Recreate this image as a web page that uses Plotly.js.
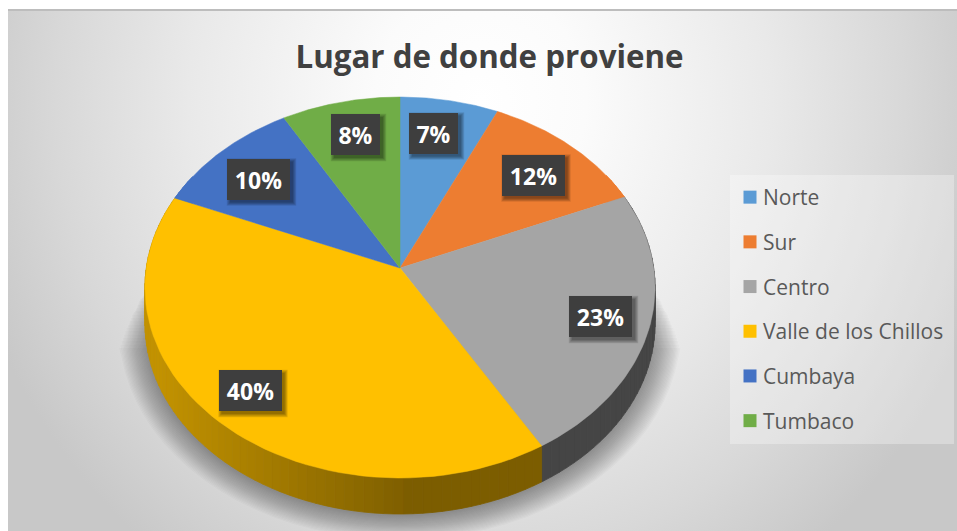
<!DOCTYPE html>
<html><head><meta charset="utf-8">
<script src="https://cdn.plot.ly/plotly-3.0.1.min.js"></script>
<style>
html,body{margin:0;padding:0;background:#fff;width:957px;height:531px;overflow:hidden}
#bg{position:absolute;left:8px;top:9px;width:949px;height:522px;box-sizing:border-box;border-top:2px solid #bdbdbd;
background:radial-gradient(ellipse 530px 570px at 472px 90px,#ffffff 0%,#fbfbfb 20%,#e9e9e9 55%,#d8d8d8 80%,#c8c8c8 100%)}
#chart{position:absolute;left:0;top:0}
</style></head><body>
<div id="bg"></div><div id="chart"></div>
<script>
var titleText = 'Lugar de donde proviene';
var categories = ['Norte','Sur','Centro','Valle de los Chillos','Cumbaya','Tumbaco'];
var values = [6.9, 11.7, 22.9, 39.8, 10.4, 8.3];
var colors = ['#5b9bd5','#ed7d31','#a5a5a5','#ffc000','#4472c4','#70ad47'];
var labelX = [433.5, 533, 600.5, 250, 258.5, 355.5];
var labelY = [133, 175, 316.5, 390.5, 179, 134.5];

// projection of the pie disc
var cx=400, cy=268, a=253.7, b=188.5, p=0.1024, depth=36;
function proj(theta, r){
  var u=Math.sin(theta)*r, v=Math.cos(theta)*r, d=1+p*v;
  return [cx+a*u/d, cy-b*v/d];
}
function mix(c1,c2,t){
  var m=[0,1,2].map(function(i){return Math.round(c1[i]+(c2[i]-c1[i])*t)});
  return 'rgb('+m.join(',')+')';
}
function sideColor(i,x){
  if(i===3){ var t=Math.max(0,Math.min(1,(x-160)/(400-160)));
    return t<1?mix([194,146,0],[128,96,0],t):'rgb(124,93,0)'; }
  if(i===2) return '#454545';
  return colors[i];
}
var traces=[];
var total=values.reduce(function(s,v){return s+v},0);
// soft shadow
var nShadow=22;
for(var k=0;k<nShadow;k++){
  var f=k/(nShadow-1), s=1.1-0.1*f, xs=[], ys=[];
  for(var d=0;d<=360;d+=4){
    var q=proj(d*Math.PI/180,s);
    xs.push(q[0]); ys.push(Math.max(cy+80-70*f,q[1]+depth+2));
  }
  traces.push({type:'scatter',mode:'lines',x:xs,y:ys,fill:'toself',fillcolor:'rgba(60,60,60,0.022)',
    line:{width:0},hoverinfo:'skip',showlegend:false});
}
// side wall strips
var start=0;
values.forEach(function(v,i){
  var end=start+v/total*2*Math.PI, step=2*Math.PI/180;
  for(var t=start;t<end;t+=step){
    var t2=Math.min(end,t+step);
    if(Math.cos(t)>0.5 && Math.cos(t2)>0.5) continue;
    var p1=proj(t,1), p2=proj(t2,1), col=sideColor(i,(p1[0]+p2[0])/2);
    traces.push({type:'scatter',mode:'lines',
      x:[p1[0],p2[0],p2[0],p1[0],p1[0]],y:[p1[1],p2[1],p2[1]+depth,p1[1]+depth,p1[1]],
      fill:'toself',fillcolor:col,line:{width:0.8,color:col},hoverinfo:'skip',showlegend:false});
  }
  start=end;
});
// top surface
start=0;
values.forEach(function(v,i){
  var end=start+v/total*2*Math.PI, xs=[cx], ys=[cy], n=60;
  for(var j=0;j<=n;j++){var q=proj(start+(end-start)*j/n,1);xs.push(q[0]);ys.push(q[1]);}
  xs.push(cx);ys.push(cy);
  traces.push({type:'scatter',mode:'lines',x:xs,y:ys,fill:'toself',fillcolor:colors[i],
    line:{width:0.5,color:colors[i]},hoverinfo:'skip',showlegend:false});
  start=end;
});
// legend entries
categories.forEach(function(c,i){
  traces.push({type:'scatter',mode:'markers',name:c,legendgroup:c,x:[-100],y:[-100],
    marker:{symbol:'square',size:13,color:colors[i]},hoverinfo:'skip',showlegend:true});
});
// labels with soft shadows
var shapes=[{type:'rect',xref:'x',yref:'y',x0:730,x1:954,y0:175,y1:444,fillcolor:'rgba(255,255,255,0.3)',line:{width:0},layer:'below'}];
var annotations=[];
categories.forEach(function(c,i){
  var pct=Math.round(values[i]/total*100), w=(pct>=10)?63:49, h=41;
  for(var g=0;g<5;g++){
    shapes.push({type:'rect',xref:'x',yref:'y',
      x0:labelX[i]-w/2+3-g*0.8,x1:labelX[i]+w/2+3+g*0.8,y0:labelY[i]-h/2+3-g*0.8,y1:labelY[i]+h/2+3+g*0.8,
      fillcolor:'rgba(0,0,0,0.1)',line:{width:0},layer:'above'});
  }
  annotations.push({xref:'x',yref:'y',x:labelX[i],y:labelY[i],xanchor:'center',yanchor:'middle',
    text:'<b>'+pct+'%</b>',showarrow:false,width:w,height:h,
    bgcolor:'#3e3e3e',borderpad:0,borderwidth:0,align:'center',valign:'middle',
    font:{family:'Open Sans, sans-serif',size:23,color:'#ffffff'}});
});
var layout={
  width:957,height:531,margin:{l:0,r:0,t:0,b:0},autosize:false,
  paper_bgcolor:'rgba(0,0,0,0)',plot_bgcolor:'rgba(0,0,0,0)',
  title:{text:'<b>'+titleText+'</b>',x:489.5/957,xanchor:'center',xref:'paper',y:1-57/531,yanchor:'middle',yref:'paper',
    font:{family:'Open Sans, sans-serif',size:31.3,color:'#404040'}},
  xaxis:{range:[0,957],visible:false,fixedrange:true},
  yaxis:{range:[531,0],visible:false,fixedrange:true},
  showlegend:true,
  legend:{x:723/957,xanchor:'left',y:1-177/531,yanchor:'top',bgcolor:'rgba(0,0,0,0)',borderwidth:0,
    traceorder:'grouped',tracegroupgap:14.4,itemwidth:30,itemsizing:'trace',
    font:{family:'Open Sans, sans-serif',size:21,color:'#595959'}},
  shapes:shapes,annotations:annotations
};
Plotly.newPlot('chart',traces,layout,{displayModeBar:false,staticPlot:true}).then(function(){
  document.querySelectorAll('.legend .legendsymbols').forEach(function(n){n.setAttribute('transform','translate(7,0)');});
});
</script></body></html>
